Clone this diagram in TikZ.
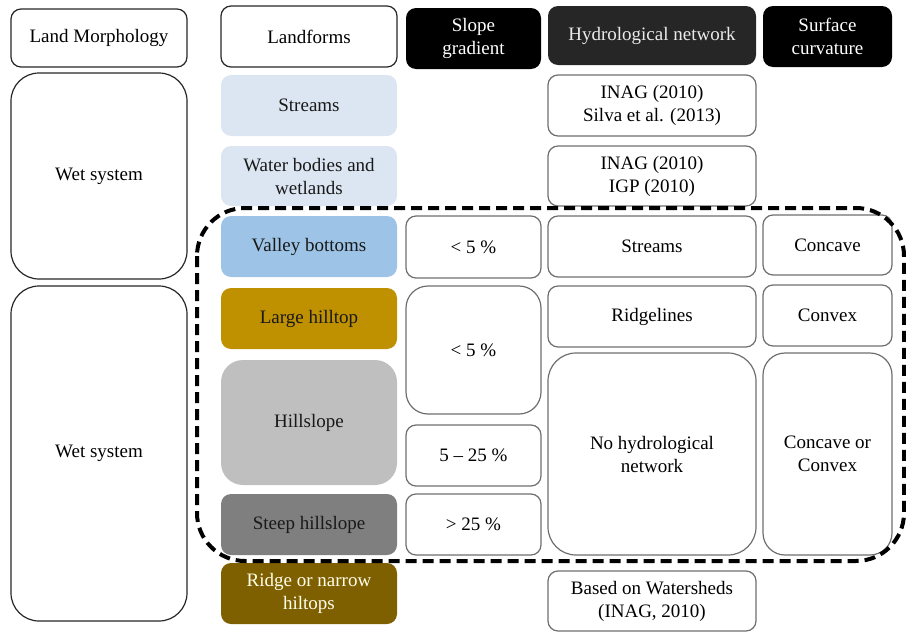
\documentclass[tikz,border=0pt]{standalone}
\usepackage{fontspec}
\setmainfont{Liberation Serif}
\definecolor{paleblue}{HTML}{DCE6F2}
\definecolor{valleyblue}{HTML}{9DC3E6}
\definecolor{hilltopgold}{HTML}{BF9000}
\definecolor{slopegray}{HTML}{BFBFBF}
\definecolor{steepgray}{HTML}{7F7F7F}
\definecolor{ridgebrown}{HTML}{7F6000}
\definecolor{boxline}{HTML}{6E6E6E}
\begin{document}
\begin{tikzpicture}[x=1pt,y=-1pt,
	every node/.style={font=\fontsize{19}{23}\selectfont,align=center,inner sep=2pt},
	cell/.style={rounded corners=10pt,line width=1.2pt},
	outline/.style={cell,draw=black!85},
	result/.style={cell,draw=boxline},
	head/.style={cell,fill=black,text=white},
	landform/.style={cell,text=black!90},
	bigcell/.style={rounded corners=#1},
	zone/.style={line width=4pt,dash pattern=on 11pt off 6pt,rounded corners=48pt}]
	\useasboundingbox (0,0) rectangle (906,632);
	% column headers
	\node[outline,minimum width=176,minimum height=58] (morph) at (99,38) {Land Morphology};
	\node[outline,minimum width=176,minimum height=61] (forms) at (309,36.5) {Landforms};
	\node[head,minimum width=135,minimum height=61] (slope) at (473.5,38.5) {Slope\\gradient};
	\node[head,fill=black!85,text=black!8,minimum width=208,minimum height=59] (hydro) at (652,35.5) {Hydrological network};
	\node[head,minimum width=129,minimum height=61] (curv) at (827.5,36.5) {Surface\\curvature};
	% land morphology
	\node[outline,bigcell=28pt,minimum width=176,minimum height=206] (wetA) at (99,176) {Wet system};
	\node[outline,bigcell=28pt,minimum width=176,minimum height=335] (wetB) at (99,453.5) {Wet system};
	% landforms
	\node[landform,fill=paleblue,minimum width=176,minimum height=61] (streams) at (309,105.5) {Streams};
	\node[landform,fill=paleblue,minimum width=176,minimum height=60] (water) at (309,176) {Water bodies and\\wetlands};
	\node[landform,fill=valleyblue,minimum width=176,minimum height=61] (valley) at (309,246.5) {Valley bottoms};
	\node[landform,fill=hilltopgold,minimum width=176,minimum height=61] (hilltop) at (309,318.5) {Large hilltop};
	\node[landform,bigcell=22pt,fill=slopegray,minimum width=176,minimum height=125] (hillslope) at (309,422.5) {Hillslope};
	\node[landform,fill=steepgray,minimum width=176,minimum height=61] (steep) at (309,524.5) {Steep hillslope};
	\node[cell,fill=ridgebrown,text=white!92!yellow,minimum width=176,minimum height=61] (ridge) at (309,593.5) {Ridge or narrow\\hiltops};
	% slope gradient
	\node[result,minimum width=135,minimum height=62] (gradA) at (473.5,247) {< 5 \%};
	\node[result,bigcell=22pt,minimum width=135,minimum height=128] (gradB) at (473.5,350) {< 5 \%};
	\node[result,minimum width=135,minimum height=61] (gradC) at (473.5,455.5) {5 -- 25 \%};
	\node[result,minimum width=135,minimum height=61] (gradD) at (473.5,524.5) {> 25 \%};
	% hydrological network
	\node[result,minimum width=208,minimum height=61] (srcA) at (652,105.5) {INAG (2010)\\Silva et al. (2013)};
	\node[result,minimum width=208,minimum height=60] (srcB) at (652,176) {INAG (2010)\\IGP (2010)};
	\node[result,minimum width=208,minimum height=61] (netA) at (652,246.5) {Streams};
	\node[result,minimum width=208,minimum height=61] (netB) at (652,316.5) {Ridgelines};
	\node[result,bigcell=28pt,minimum width=208,minimum height=202] (netC) at (652,454) {No hydrological\\network};
	\node[result,minimum width=208,minimum height=60] (netD) at (652,601) {Based on Watersheds\\(INAG, 2010)};
	% surface curvature
	\node[result,minimum width=129,minimum height=60] (curvA) at (827.5,245) {Concave};
	\node[result,minimum width=129,minimum height=61] (curvB) at (827.5,315.5) {Convex};
	\node[result,bigcell=22pt,minimum width=129,minimum height=202] (curvC) at (827.5,454) {Concave or\\Convex};
	% dry zone outline
	\draw[zone] (197,208) rectangle (904,561);
\end{tikzpicture}
\end{document}
